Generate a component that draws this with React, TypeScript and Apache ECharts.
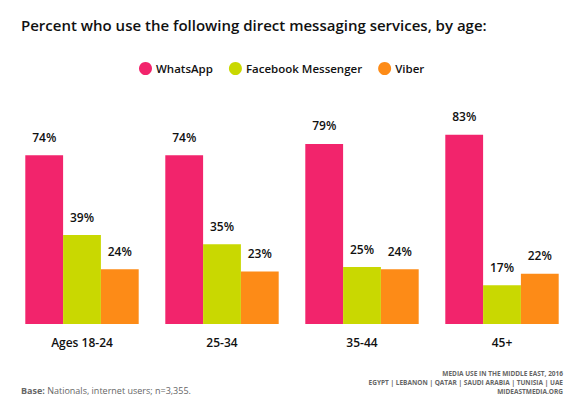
import React, { useEffect, useRef } from "react";
import * as echarts from "echarts";

const categories = ["Ages 18-24", "25-34", "35-44", "45+"];
const seriesNames = ["WhatsApp", "Facebook Messenger", "Viber"];
const whatsapp = [74, 74, 79, 83];
const messenger = [39, 35, 25, 17];
const viber = [24, 23, 24, 22];
const colors = ["#F2246C", "#C9D801", "#FD8B17"];
const titleText = "Percent who use the following direct messaging services, by age:";
const footerLines = [
  "MEDIA USE IN THE MIDDLE EAST, 2016",
  "EGYPT | LEBANON | QATAR | SAUDI ARABIA | TUNISIA | UAE",
  "MIDEASTMEDIA.ORG",
];

const FONT = "'Open Sans', 'DejaVu Sans', sans-serif";

export default function App() {
  const ref = useRef<HTMLDivElement>(null);
  useEffect(() => {
    if (!ref.current) return;
    const chart = echarts.init(ref.current, null, { renderer: "svg" });
    const dataSets = [whatsapp, messenger, viber];
    chart.setOption({
      animation: false,
      backgroundColor: "#ffffff",
      title: {
        text: titleText,
        left: 16,
        top: 12,
        textStyle: { fontFamily: FONT, fontSize: 15, fontWeight: 600, color: "#111" },
      },
      legend: {
        data: seriesNames,
        left: 134,
        top: 57,
        icon: "circle",
        itemWidth: 13,
        itemHeight: 13,
        itemGap: 16,
        textStyle: { fontFamily: FONT, fontSize: 11.5, fontWeight: 600, color: "#111", padding: [0, 0, 0, -1] },
      },
      grid: { left: 12, right: 12, top: 96, bottom: 80 },
      xAxis: {
        type: "category",
        data: categories,
        axisLine: { show: false },
        axisTick: { show: false },
        axisLabel: { fontFamily: FONT, fontSize: 12, fontWeight: 600, color: "#111", margin: 12 },
      },
      yAxis: {
        type: "value",
        min: 0,
        max: 100,
        show: false,
        splitLine: { show: false },
      },
      series: seriesNames.map((name, i) => ({
        name,
        type: "bar",
        data: dataSets[i],
        barGap: "0%",
        barCategoryGap: "19%",
        itemStyle: { color: colors[i] },
        label: {
          show: true,
          position: "top",
          distance: 12,
          formatter: "{c}%",
          fontFamily: FONT,
          fontSize: 12,
          fontWeight: 600,
          color: "#111",
        },
      })),
      graphic: [
        {
          type: "text",
          left: 21,
          top: 386,
          style: {
            text: "{b|Base:} Nationals, internet users; n=3,355.",
            fontFamily: FONT,
            fontSize: 9,
            fill: "#666",
            rich: {
              b: { fontFamily: FONT, fontSize: 9, fontWeight: "bold", fill: "#666" },
            },
          },
        },
        ...footerLines.map((t, i) => ({
          type: "text",
          right: 21,
          top: 370 + i * 9,
          style: {
            text: t,
            fontFamily: FONT,
            fontSize: 6.5,
            fontWeight: "bold",
            fill: "#666",
          },
        })),
      ],
    });
    return () => chart.dispose();
  }, []);
  return (
    <div
      ref={ref}
      style={{ position: "absolute", left: 0, top: 0, width: 584, height: 404 }}
    />
  );
}
